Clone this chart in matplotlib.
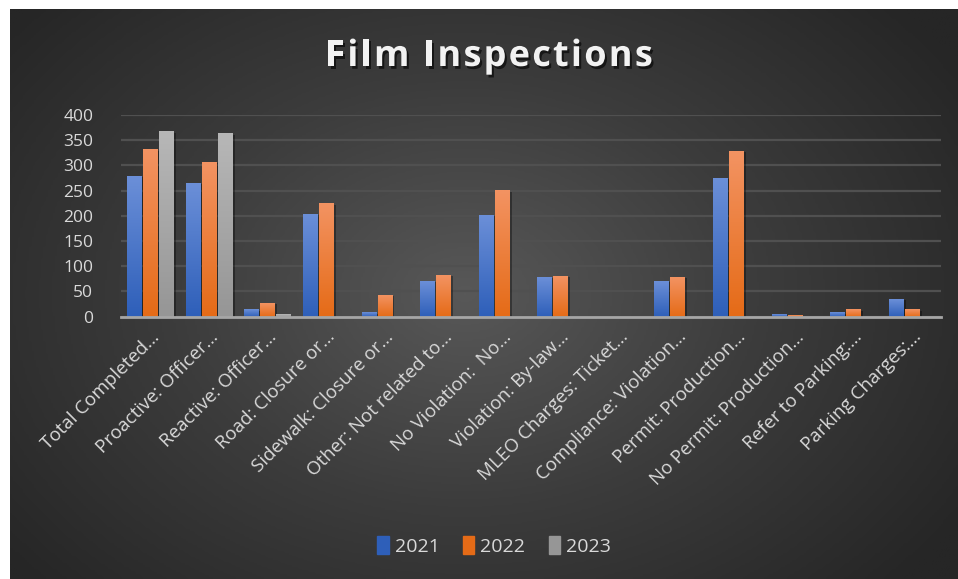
import matplotlib
matplotlib.use('Agg')
import matplotlib.pyplot as plt
import matplotlib.patheffects as pe
from matplotlib.colors import LinearSegmentedColormap
import numpy as np

categories = ['Total Completed…', 'Proactive: Officer…', 'Reactive: Officer…',
              'Road: Closure or…', 'Sidewalk: Closure or…', 'Other: Not related to…',
              'No Violation:  No…', 'Violation: By-law…', 'MLEO Charges: Ticket…',
              'Compliance: Violation…', 'Permit: Production…', 'No Permit: Production…',
              'Refer to Parking:…', 'Parking Charges:…']
y2021 = [279, 265, 15, 204, 9, 71, 202, 79, 0, 71, 275, 5, 9, 35]
y2022 = [332, 307, 27, 225, 43, 83, 251, 81, 0, 79, 329, 3, 15, 15]
y2023 = [368, 364, 5, 0, 0, 0, 0, 0, 0, 0, 0, 0, 0, 0]
years = ['2021', '2022', '2023']
chart_title = 'Film Inspections'

# (top colour, bottom colour) for each series
grads = [('#6b8fd8', '#2e5fb9'), ('#f39362', '#e56b17'), ('#b7b7b7', '#969696')]

W, H = 958, 579
fig = plt.figure(figsize=(W / 100, H / 100), dpi=100)
fig.patch.set_facecolor('white')

# dark radial background panel
bg = fig.add_axes([10 / W, 0, (W - 10) / W, (H - 9) / H])
bg.set_axis_off()
gx, gy = np.meshgrid(np.linspace(0, 1, 400), np.linspace(0, 1, 240))
r = np.sqrt(((gx - 0.48) / 0.62) ** 2 + ((gy - 0.5) / 0.75) ** 2)
r = np.clip(r, 0, 1)
bg_cmap = LinearSegmentedColormap.from_list('bg', ['#585858', '#3c3c3c', '#262626'])
bg.imshow(r, cmap=bg_cmap, vmin=0, vmax=1, aspect='auto', extent=[0, 1, 0, 1])
bg.set_xlim(0, 1)
bg.set_ylim(0, 1)

ax = fig.add_axes([121 / W, (H - 316.7) / H, 820 / W, 201.7 / H])
ax.patch.set_alpha(0)

x = np.arange(len(categories))
bw = 0.24
step = 0.273
grad_img = np.linspace(0, 1, 100).reshape(-1, 1)
for i, (vals, (ctop, cbot)) in enumerate(zip([y2021, y2022, y2023], grads)):
    bars = ax.bar(x + (i - 1) * step, vals, width=bw, color=cbot, zorder=3,
                  label=years[i])
    cm = LinearSegmentedColormap.from_list('g%d' % i, [cbot, ctop])
    for b in bars:
        b.set_path_effects([pe.SimplePatchShadow(offset=(2, -1), shadow_rgbFace='black', alpha=0.35),
                            pe.Normal()])
        if b.get_height() <= 0:
            continue
        x0 = b.get_x()
        im = ax.imshow(grad_img, cmap=cm, aspect='auto', origin='lower',
                       extent=[x0, x0 + b.get_width(), 0, b.get_height()], zorder=4)
        im.set_clip_path(b)

ax.set_xlim(-0.5, len(categories) - 0.5)
ax.set_ylim(0, 400)
ax.set_yticks(np.arange(0, 401, 50))
ax.yaxis.grid(True, color='#505050', linewidth=1.6, zorder=0)
ax.set_axisbelow(True)
for s in ['top', 'right', 'left']:
    ax.spines[s].set_visible(False)
ax.spines['bottom'].set_color('#a6a6a6')
ax.spines['bottom'].set_linewidth(2)
ax.spines['bottom'].set_zorder(5)
ax.tick_params(length=0, colors='#d9d9d9', labelsize=12.5)
ax.tick_params(axis='y', pad=20)
ax.set_xticks(x)
ax.set_xticklabels(categories, rotation=45, ha='right', rotation_mode='anchor',
                   fontsize=13.5, color='#d9d9d9')
ax.tick_params(axis='x', pad=8)
for lbl in ax.get_xticklabels() + ax.get_yticklabels():
    lbl.set_family('Open Sans')

# title with extra letter spacing (placed char by char)
tkw = dict(fontsize=26, fontweight='bold', family='Open Sans')
renderer = fig.canvas.get_renderer()
def text_w(s):
    t = fig.text(0, 0, s, **tkw)
    w = t.get_window_extent(renderer).width
    t.remove()
    return w
bar_w = text_w('|')
offs = [text_w(chart_title[:k] + '|') - bar_w if k else 0 for k in range(len(chart_title))]
extra = 2.2
total = text_w(chart_title) + extra * (len(chart_title) - 1)
start = 489 - total / 2
for k, ch in enumerate(chart_title):
    if ch == ' ':
        continue
    fig.text((start + offs[k] + k * extra) / W, 1 - 57 / H, ch, ha='left', va='center',
             color='#f2f2f2',
             path_effects=[pe.withSimplePatchShadow(offset=(1.5, -2), shadow_rgbFace='black', alpha=0.6)],
             **tkw)

leg = fig.legend(loc='center', bbox_to_anchor=(494 / W, 1 - 546 / H), ncol=3, frameon=False,
                 fontsize=14, handlelength=0.6, handleheight=1.0, handletextpad=0.3,
                 columnspacing=1.2)
for t in leg.get_texts():
    t.set_color('#d9d9d9')
    t.set_family('Open Sans')
for h, (ctop, cbot) in zip(leg.legend_handles, grads):
    h.set_path_effects([])
    h.set_color(cbot)

fig.savefig('out.png', dpi=100, facecolor='white')
